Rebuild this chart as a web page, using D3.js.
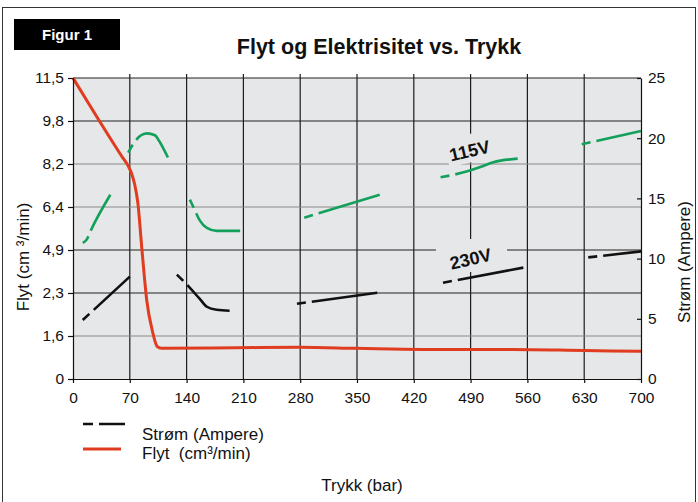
<!DOCTYPE html>
<html>
<head>
<meta charset="utf-8">
<script src="https://cdn.jsdelivr.net/npm/d3@7"></script>
<style>
  body { margin: 0; background: #fff; }
  text { font-family: "Liberation Sans", Arial, Helvetica, sans-serif; fill: #111; white-space: pre; }
  .axis text { font-size: 15.5px; }
  .axis path, .axis line { stroke: #111; stroke-width: 1.2; }
</style>
</head>
<body>
<div id="chart_area"></div>
<script>
// tick values
var xTicks = [0, 70, 140, 210, 280, 350, 420, 490, 560, 630, 700];
var flowTicks = [0, 1.6, 2.3, 4.9, 6.4, 8.2, 9.8, 11.5];   // left axis, evenly spaced labels
var ampTicks = [0, 5, 10, 15, 20, 25];

// flow curve (cm3/min) against pressure (bar)
var flowPressure = [0, 31, 60, 68, 72, 76, 80, 85, 91, 98, 104, 110, 200, 280, 350, 430, 540, 630, 700];
var flowValues = [11.5, 9.88, 8.49, 8.12, 7.82, 7.35, 6.55, 4.9, 2.17, 1.67, 1.2, 1.14, 1.16, 1.18, 1.14, 1.1, 1.1, 1.06, 1.03];

// current at 115V, one array per drawn piece
var greenPressure = [[12, 17, 21, 46], [68, 76, 83, 91, 101, 105, 117], [144, 149, 156, 165, 177, 206],
                     [285, 378], [453, 486, 502, 518, 548], [627, 700]];
var greenAmps = [[11.3, 11.6, 12.2, 15.3], [18.8, 19.7, 20.2, 20.4, 20.25, 19.9, 18.4], [14.9, 14.2, 13.2, 12.55, 12.3, 12.3],
                 [13.4, 15.3], [16.75, 17.25, 17.6, 18.0, 18.3], [19.5, 20.6]];

// current at 230V
var blackPressure = [[12, 70], [128, 138, 156, 165, 177, 193], [276, 375], [456, 555], [635, 700]];
var blackAmps = [[4.9, 8.5], [8.67, 8.0, 6.67, 6.0, 5.75, 5.67], [6.25, 7.17], [8.0, 9.25], [10.1, 10.6]];

var frame_width = 698, frame_height = 502;
var plot = {left: 73, right: 641, top: 78, bottom: 379};
var bg = "#e6e7e9";
var red = "#e03c1f", green = "#12a05a";

var svg = d3.select("#chart_area").append("svg")
    .attr("width", frame_width)
    .attr("height", frame_height);

// outer frame
svg.append("rect")
    .attr("x", 2.5).attr("y", 7.5)
    .attr("width", 693).attr("height", 510)
    .attr("fill", "#fff").attr("stroke", "#333").attr("stroke-width", 1);

// "Figur 1" box
svg.append("rect").attr("x", 14).attr("y", 19).attr("width", 106).attr("height", 31).attr("fill", "#000");
svg.append("text").attr("x", 67).attr("y", 40).attr("text-anchor", "middle")
    .style("fill", "#fff").style("font-weight", "bold").style("font-size", "15px").text("Figur 1");

// title
svg.append("text").attr("x", 379).attr("y", 54).attr("text-anchor", "middle")
    .style("font-weight", "bold").style("font-size", "21.5px").text("Flyt og Elektrisitet vs. Trykk");

// scales
var xScale = d3.scaleLinear().domain([0, 700]).range([plot.left, plot.right]);
var step = (plot.bottom - plot.top) / (flowTicks.length - 1);
var yFlow = d3.scaleLinear().domain(flowTicks)
    .range(flowTicks.map(function(d, i) { return plot.bottom - i * step; }));
var yAmp = d3.scaleLinear().domain([0, 25]).range([plot.bottom, plot.top]);

// plot background
svg.append("rect")
    .attr("x", plot.left).attr("y", plot.top)
    .attr("width", plot.right - plot.left).attr("height", plot.bottom - plot.top)
    .attr("fill", bg);

// grid
var grid = svg.append("g");
grid.selectAll(".vg").data(xTicks.slice(1, -1)).enter().append("line")
    .attr("x1", function(d) { return xScale(d); }).attr("x2", function(d) { return xScale(d); })
    .attr("y1", plot.top - 4).attr("y2", plot.bottom)
    .attr("stroke", "#1c1c1c").attr("stroke-width", 1.2);
grid.selectAll(".hg").data(flowTicks.slice(1)).enter().append("line")
    .attr("x1", plot.left).attr("x2", plot.right)
    .attr("y1", function(d) { return yFlow(d); }).attr("y2", function(d) { return yFlow(d); })
    .attr("stroke", function(d) { return (d == 1.6 || d == 6.4 || d == 8.2) ? "#8a8a8a" : "#222"; })
    .attr("stroke-width", 1.2);

// patches behind the voltage labels
svg.append("rect").attr("x", 436).attr("y", 239).attr("width", 71).attr("height", 33).attr("fill", bg);
svg.append("rect").attr("x", -25).attr("y", -15).attr("width", 50).attr("height", 28).attr("fill", bg)
    .attr("transform", "translate(471,149) rotate(-13)");

svg.append("text").attr("transform", "translate(471,157) rotate(-13)")
    .attr("text-anchor", "middle").style("font-weight", "bold").style("font-size", "18px").text("115V");
svg.append("text").attr("transform", "translate(472,265) rotate(-13)")
    .attr("text-anchor", "middle").style("font-weight", "bold").style("font-size", "18px").text("230V");

// current pieces: short dash, gap, then solid
function drawPieces(pressures, amps, colour) {
    var line = d3.line()
        .x(function(d) { return xScale(d[0]); })
        .y(function(d) { return yAmp(d[1]); })
        .curve(d3.curveMonotoneX);
    pressures.forEach(function(ps, k) {
        var pts = ps.map(function(p, i) { return [p, amps[k][i]]; });
        svg.append("path")
            .attr("d", line(pts))
            .attr("fill", "none")
            .attr("stroke", colour)
            .attr("stroke-width", 2.6)
            .attr("stroke-dasharray", "9,6,2000");
    });
}
drawPieces(greenPressure, greenAmps, green);
drawPieces(blackPressure, blackAmps, "#111");

// flow curve
var flowLine = d3.line()
    .x(function(d) { return xScale(d[0]); })
    .y(function(d) { return yFlow(d[1]); })
    .curve(d3.curveMonotoneX);
svg.append("path")
    .attr("d", flowLine(flowPressure.map(function(p, i) { return [p, flowValues[i]]; })))
    .attr("fill", "none").attr("stroke", red).attr("stroke-width", 3);

// axes
svg.append("g").attr("class", "axis")
    .attr("transform", "translate(0," + plot.bottom + ")")
    .call(d3.axisBottom(xScale).tickValues(xTicks).tickSizeInner(4).tickSizeOuter(0).tickPadding(9));
svg.append("g").attr("class", "axis")
    .attr("transform", "translate(" + plot.left + ",0)")
    .call(d3.axisLeft(yFlow).tickValues(flowTicks).tickSizeInner(5).tickSizeOuter(0).tickPadding(4)
        .tickFormat(function(d) { return String(d).replace(".", ","); }));
svg.append("g").attr("class", "axis")
    .attr("transform", "translate(" + plot.right + ",0)")
    .call(d3.axisRight(yAmp).tickValues(ampTicks).tickSizeInner(-4).tickSizeOuter(0).tickPadding(7));

// axis titles
svg.append("text").attr("transform", "translate(29,257) rotate(-90)")
    .attr("text-anchor", "middle").style("font-size", "17px").text("Flyt (cm \u00b3/min)");
svg.append("text").attr("transform", "translate(690,262) rotate(-90)")
    .attr("text-anchor", "middle").style("font-size", "17px").text("Str\u00f8m (Ampere)");
svg.append("text").attr("x", 362).attr("y", 491)
    .attr("text-anchor", "middle").style("font-size", "17px").text("Trykk (bar)");

// legend
svg.append("line").attr("x1", 83).attr("x2", 125).attr("y1", 424).attr("y2", 424)
    .attr("stroke", "#111").attr("stroke-width", 2.6).attr("stroke-dasharray", "10,6,100");
svg.append("line").attr("x1", 83).attr("x2", 121).attr("y1", 449).attr("y2", 449)
    .attr("stroke", red).attr("stroke-width", 3);
svg.append("text").attr("x", 142).attr("y", 440).style("font-size", "17px").text("Str\u00f8m (Ampere)");
svg.append("text").attr("x", 142).attr("y", 459).style("font-size", "17px").text("Flyt  (cm\u00b3/min)");
</script>
</body>
</html>
